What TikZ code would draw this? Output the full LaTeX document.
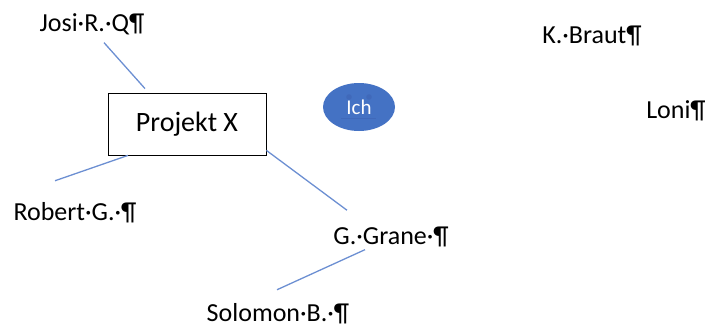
\documentclass[tikz,border=0pt]{standalone}
\usepackage{fontspec}
\setmainfont{Carlito}
\usepackage{tikz}
\usetikzlibrary{shapes.geometric}
\definecolor{linkblue}{HTML}{6C8FD2}
\definecolor{ichblue}{HTML}{4472C4}
\definecolor{ichdark}{HTML}{4069BA}

\begin{document}
\begin{tikzpicture}[x=1pt,y=-1pt,
  name node/.style={anchor=base,inner sep=0pt,font=\fontsize{26}{30}\selectfont},
  project node/.style={draw,fill=white,line width=0.8pt,inner sep=0pt,
    minimum width=158pt,minimum height=62pt,font=\fontsize{28}{32}\selectfont},
  me node/.style={ellipse,fill=ichblue,text=white,inner sep=0pt,
    minimum width=72pt,minimum height=48pt,font=\fontsize{21}{24}\selectfont},
  link/.style={draw=linkblue,line width=1.3pt}]
  \useasboundingbox (0,0) rectangle (705,327);

  \node[project node] (box) at (187,124) {Projekt X};
  \node[me node] (ich) at (359,107) {Ich};
  \fill[ichdark] ([shift={(-10,-10)}]ich.center) circle (2.8pt)
                 ([shift={(10,-10)}]ich.center) circle (2.8pt);
  \draw[ichdark,line width=0.8pt] ([shift={(-18,11)}]ich.center) -- ([shift={(17,11)}]ich.center);

  \node[name node] (josi) at (92,31) {Josi·R.·Q¶};
  \node[name node] (robert) at (75,220) {Robert·G.·¶};
  \node[name node] (grane) at (391,244) {G.·Grane·¶};
  \node[name node] (solomon) at (278,321) {Solomon·B.·¶};
  \node[name node] (braut) at (592,43) {K.·Braut¶};
  \node[name node] (loni) at (676,118) {Loni¶};

  \path[link]
  ([shift={(12,8)}]josi.south) edge ([shift={(-42,-4)}]box.north)
  ([shift={(-59,0)}]box.south) edge ([shift={(-20,-21)}]robert.north)
  ([shift={(0,-5)}]box.south east) edge ([shift={(-44,-16)}]grane.north)
  ([shift={(-26,3)}]grane.south) edge ([shift={(-1,-13)}]solomon.north);
\end{tikzpicture}
\end{document}
